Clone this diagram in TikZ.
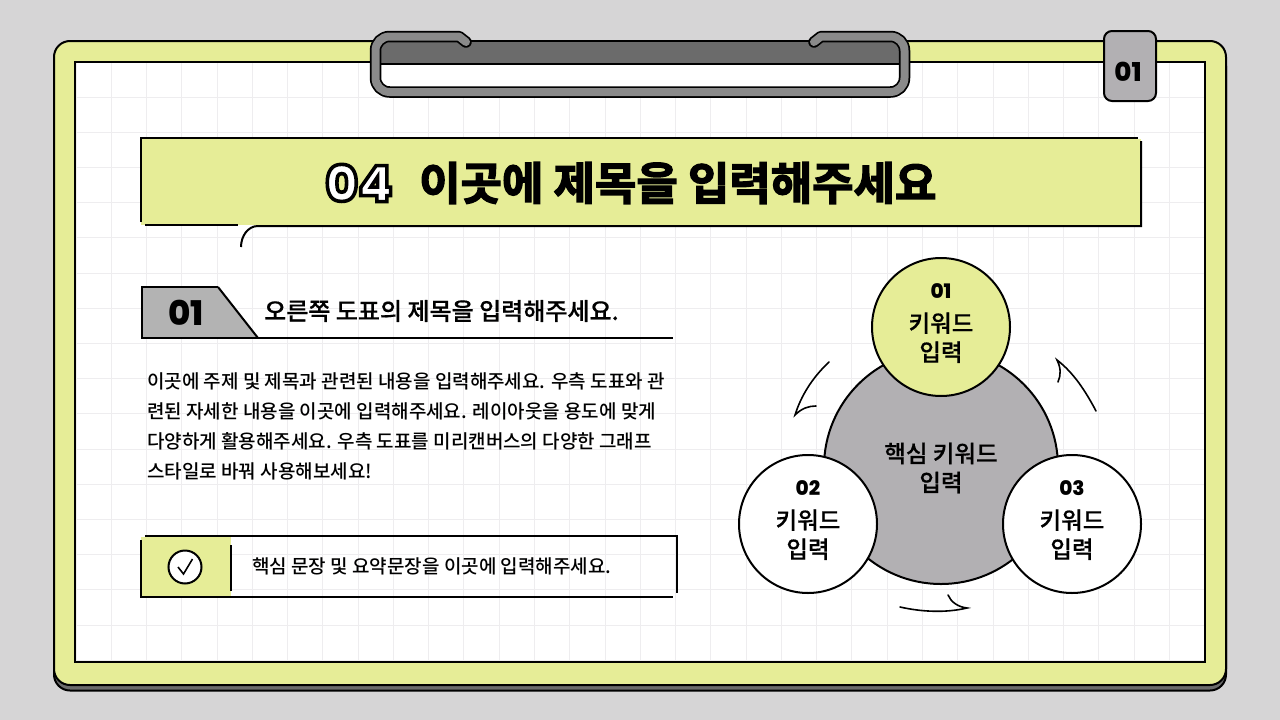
\documentclass[tikz,border=0pt]{standalone}
\usepackage{fontspec}
\usetikzlibrary{positioning}
\setmainfont{Noto Sans CJK KR Medium}
\newfontfamily\numfont{Poppins ExtraBold}
\newfontfamily\heavyfont{Noto Sans CJK KR Bold}[FakeBold=3]
\newfontfamily\semifont{Noto Sans CJK KR Medium}[FakeBold=0.5]
\definecolor{paper}{HTML}{D6D5D6}
\definecolor{lime}{HTML}{E6ED97}
\definecolor{ash}{HTML}{B2B0B3}
\definecolor{badgegrey}{HTML}{B3B3B3}
\definecolor{clipgrey}{HTML}{8A8A8A}
\definecolor{clipdark}{HTML}{6B6B6B}
\definecolor{gridgrey}{HTML}{EEEDEF}
\tikzset{
	ink/.style={line width=2pt,draw=black},
	gridline/.style={line width=1pt,draw=gridgrey},
	sketch/.style={line width=1.6pt,draw=black,line cap=round},
	keycircle/.style={circle,ink,minimum size=138pt,inner sep=0pt},
	keytext/.style={align=center,font=\semifont\fontsize{23.5}{29}\selectfont},
	bodyline/.style={anchor=west,inner sep=0pt,font=\fontsize{19}{21}\selectfont},
	clipband/.style={rounded corners=14pt,line cap=round,line join=round}
}
\newcommand{\keynum}[1]{{\numfont\fontsize{20}{29}\selectfont #1}}
\begin{document}
\begin{tikzpicture}[x=1pt,y=-1pt]
	\useasboundingbox (0,0) rectangle (1280,720);
	\fill[paper] (0,0) rectangle (1280,720);

	% board
	\draw[ink,fill=clipdark,rounded corners=16pt] (54,50) rectangle (1226,690.5);
	\draw[ink,fill=lime,rounded corners=16pt] (54,41) rectangle (1226,685);
	\fill[white] (75,62) rectangle (1205,662);
	\foreach \gx in {0,...,32}
		\draw[gridline] ({76+35.27*\gx},63) -- ({76+35.27*\gx},661);
	\foreach \gy in {0,...,16}
		\draw[gridline] (76,{97+35.2*\gy}) -- (1204,{97+35.2*\gy});
	\draw[ink] (75,62) rectangle (1205,662);

	% clip
	\fill[white] (380,64) rectangle (900,87);
	\draw[ink,fill=clipdark] (380,41) rectangle (900,64);
	\coordinate (clipa) at (466,42);
	\coordinate (clipb) at (814,42);
	\draw[line width=11.5pt,clipband] (clipa) [sharp corners] -- (459,36.5) [rounded corners=14pt] -- (375.5,36.5) -- (375.5,92) -- (904.5,92) -- (904.5,36.5) [sharp corners] -- (821,36.5) -- (clipb);
	\draw[line width=8pt,draw=clipgrey,clipband] (clipa) [sharp corners] -- (459,36.5) [rounded corners=14pt] -- (375.5,36.5) -- (375.5,92) -- (904.5,92) -- (904.5,36.5) [sharp corners] -- (821,36.5) -- (clipb);

	% page tab
	\node[ink,fill=ash,rounded corners=8pt,minimum width=52pt,minimum height=70pt,inner sep=0pt,label={[font=\numfont\fontsize{26}{26}\selectfont,xshift=-2pt,yshift=-6pt]center:01}] (pagetab) at (1130,66) {};

	% title banner
	\fill[lime] (141,139) rectangle (1141,225);
	\draw[ink] (141,222) -- (141,138) -- (1138,138);
	\draw[ink] (1141,141) -- (1141,226) -- (258,226) .. controls (248,226) and (241,236) .. (241,247);
	\draw[ink] (145,225) -- (238,225);
	\node[inner sep=0pt,font=\numfont\fontsize{50}{50}\selectfont] (titlenum) at (359,183) {\special{pdf:code q}\textcolor{white}{\special{pdf:code 0 G 2 Tr 3.6 w}04}\special{pdf:code Q}};
	\node[inner sep=0pt,anchor=west,font=\heavyfont\fontsize{45}{48}\selectfont] (titletext) at (419,183) {이곳에 제목을 입력해주세요};

	% section heading
	\fill[badgegrey] (142,287) -- (218,287) -- (258,338) -- (142,338) -- cycle;
	\draw[ink] (218,287) -- (142,287) -- (142,338) -- (673,338);
	\draw[ink] (218,287) -- (258,338);
	\node[inner sep=0pt,font=\numfont\fontsize{34}{34}\selectfont] (secnum) at (186,313) {01};
	\node[inner sep=0pt,anchor=west,font=\semifont\fontsize{24}{26}\selectfont] (sectitle) at (264,311) {오른쪽 도표의 제목을 입력해주세요.};

	% body
	\node[bodyline] (line1) at (147,381) {이곳에 주제 및 제목과 관련된 내용을 입력해주세요. 우측 도표와 관};
	\node[bodyline,below=30pt of line1.west,anchor=west] (line2) {련된 자세한 내용을 이곳에 입력해주세요. 레이아웃을 용도에 맞게};
	\node[bodyline,below=30pt of line2.west,anchor=west] (line3) {다양하게 활용해주세요. 우측 도표를 미리캔버스의 다양한 그래프};
	\node[bodyline,below=30pt of line3.west,anchor=west] (line4) {스타일로 바꿔 사용해보세요!};

	% callout
	\fill[lime] (141,537) rectangle (231,596);
	\draw[ink] (145,536) -- (677,536) -- (677,593);
	\draw[ink] (141,540) -- (141,597) -- (673,597);
	\draw[ink] (231,545) -- (231,591);
	\node[circle,ink,fill=white,minimum size=33pt,inner sep=0pt] (checkmark) at (185,567) {};
	\draw[line width=1.6pt] ([shift={(-7pt,0pt)}]checkmark.center) -- ([shift={(-1.5pt,-7pt)}]checkmark.center) -- ([shift={(7.5pt,8pt)}]checkmark.center);
	\node[bodyline] (callout) at (252,566) {핵심 문장 및 요약문장을 이곳에 입력해주세요.};

	% keywords
	\node[circle,ink,fill=ash,minimum size=234pt,inner sep=0pt,keytext,text depth=0pt] (hub) at (941,467) {핵심 키워드\\입력};
	\node[keycircle,fill=lime,label={[keytext,yshift=3.5pt]center:\keynum{01}\\[4pt]키워드\\입력}] (key1) at (941,327) {};
	\node[keycircle,fill=white,label={[keytext,yshift=3.5pt]center:\keynum{02}\\[4pt]키워드\\입력}] (key2) at (808,524) {};
	\node[keycircle,fill=white,label={[keytext,yshift=3.5pt]center:\keynum{03}\\[4pt]키워드\\입력}] (key3) at (1072,524) {};

	% hand drawn arrows
	\coordinate (arra) at (829,362);
	\coordinate (arrb) at (795,415);
	\coordinate (arrc) at (816,406);
	\coordinate (arrd) at (1096,411);
	\coordinate (arre) at (1057,360);
	\coordinate (arrf) at (1058,382);
	\coordinate (arrg) at (900,607);
	\coordinate (arrh) at (967,608);
	\coordinate (arri) at (948,595);
	\draw[sketch] (arra) .. controls (812,378) and (801,396) .. (arrb) .. controls (802,408) and (809,406) .. (arrc);
	\draw[sketch] (arrd) .. controls (1086,392) and (1074,373) .. (arre) .. controls (1061,368) and (1061,375) .. (arrf);
	\draw[sketch] (arrg) .. controls (922,612) and (946,613) .. (arrh) .. controls (958,607) and (951,602) .. (arri);
\end{tikzpicture}
\end{document}
